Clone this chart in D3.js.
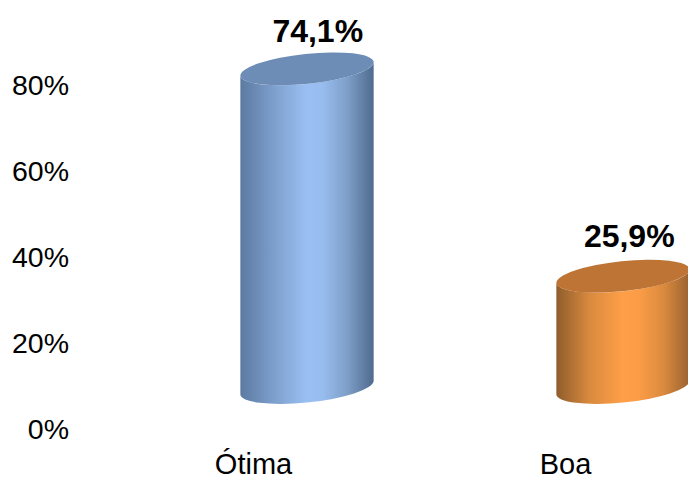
<!DOCTYPE html>
<html lang="en">
  <head>
    <script src="https://d3js.org/d3.v7.min.js"></script>
    <meta charset="utf-8">
    <title></title>
    <style>
      html, body { margin: 0; padding: 0; background: #fff; }
      svg { display: block; }
      text { font-family: "Liberation Sans", Arial, sans-serif; fill: #000; }
    </style>
  </head>
  <body>
    <svg id="chart" width="688" height="477"></svg>
    <script type="text/javascript">

    var categories = ["Ótima", "Boa"];
    var values = [74.1, 25.9];
    var valueLabels = ["74,1%", "25,9%"];
    var yTicks = [0, 20, 40, 60, 80];

    var width = 688;
    var height = 477;
    var svg = d3.select("#chart");
    var defs = svg.append("defs");

    // the cylinders sit above the axis zero because of the fake 3d depth
    var depth = 42.5;
    var rx = 67;
    var ry = 15;
    var tilt = -6;

    var x = d3.scaleBand().domain(categories).range([149, 781]).padding(0);
    var y = d3.scaleLinear().domain([0, 80]).range([430, 86]);

    // perspective moves the labels a little, so they get their own scales
    var xCat = d3.scaleBand().domain(categories).range([97.5, 721.5]);
    var xLabel = d3.scaleBand().domain(categories).range([162, 785]);
    var yLabel = d3.scaleLinear().domain([0, 80]).range([357, 17]);

    var yAxis = d3.axisLeft(y)
      .tickValues(yTicks)
      .tickSize(0)
      .tickPadding(0)
      .tickFormat(function(d) { return d + "%"; });

    var axisG = svg.append("g")
      .attr("transform", "translate(69,0)")
      .call(yAxis);
    axisG.select(".domain").remove();
    axisG.selectAll("text")
      .style("font-size", "28.5px")
      .style("font-family", "'Liberation Sans', Arial, sans-serif")
      .attr("dy", "0.29em");

    var palettes = [
      { top: "#6d8db6", stops: ["#5c7aa1", "#7d9fcc", "#9ac0f3", "#97bcee", "#7f9fc9", "#4f6a8e"] },
      { top: "#bd7435", stops: ["#8f5d2c", "#d98a3e", "#ff9f48", "#fb9c46", "#dc8b3f", "#9a6230"] }
    ];

    palettes.forEach(function(p, i) {
      var grad = defs.append("linearGradient")
        .attr("id", "side" + i)
        .attr("x1", 0).attr("x2", 1).attr("y1", 0).attr("y2", 0);
      var offsets = [0, 0.25, 0.5, 0.62, 0.8, 1];
      p.stops.forEach(function(c, j) {
        grad.append("stop").attr("offset", offsets[j]).attr("stop-color", c);
      });
    });

    // tangent point of the tilted ellipse, where the side walls meet it
    var phi = tilt * Math.PI / 180;
    var t = Math.atan(-(ry / rx) * Math.tan(phi));
    var edgeX = rx * Math.cos(t) * Math.cos(phi) - ry * Math.sin(t) * Math.sin(phi);
    var edgeY = rx * Math.cos(t) * Math.sin(phi) + ry * Math.sin(t) * Math.cos(phi);

    var bars = svg.selectAll("g.bar")
      .data(values)
      .enter()
      .append("g")
      .attr("class", "bar");

    bars.append("path")
      .attr("fill", function(d, i) { return "url(#side" + i + ")"; })
      .attr("d", function(d, i) {
        var cx = x(categories[i]) + x.bandwidth() / 2;
        var base = y(0) - depth;
        var top = y(d) - depth;
        return "M" + (cx - edgeX) + "," + (top - edgeY)
          + "L" + (cx - edgeX) + "," + (base - edgeY)
          + "A" + rx + "," + ry + " " + tilt + " 0 0 " + (cx + edgeX) + "," + (base + edgeY)
          + "L" + (cx + edgeX) + "," + (top + edgeY)
          + "A" + rx + "," + ry + " " + tilt + " 0 1 " + (cx - edgeX) + "," + (top - edgeY)
          + "Z";
      });

    bars.append("ellipse")
      .attr("rx", rx)
      .attr("ry", ry)
      .attr("fill", function(d, i) { return palettes[i].top; })
      .attr("transform", function(d, i) {
        var cx = x(categories[i]) + x.bandwidth() / 2;
        return "translate(" + cx + "," + (y(d) - depth) + ") rotate(" + tilt + ")";
      });

    bars.append("text")
      .attr("x", function(d, i) { return xLabel(categories[i]) + xLabel.bandwidth() / 2; })
      .attr("y", function(d) { return yLabel(d); })
      .attr("text-anchor", "middle")
      .style("font-size", "32px")
      .style("font-weight", "bold")
      .text(function(d, i) { return valueLabels[i]; });

    svg.selectAll("text.cat")
      .data(categories)
      .enter()
      .append("text")
      .attr("class", "cat")
      .attr("x", function(d) { return xCat(d) + xCat.bandwidth() / 2; })
      .attr("y", 474)
      .attr("text-anchor", "middle")
      .style("font-size", "29px")
      .text(function(d) { return d; });

    </script>
  </body>
</html>
